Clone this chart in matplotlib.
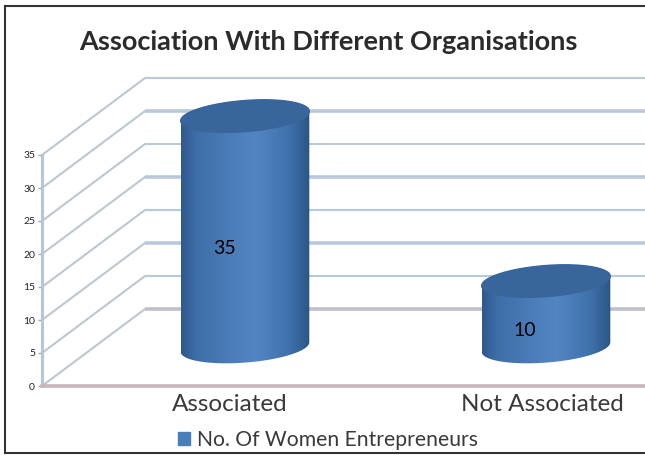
import numpy as np
import matplotlib
matplotlib.use("Agg")
import matplotlib.pyplot as plt
from matplotlib.lines import Line2D
from matplotlib.patches import Patch, Polygon

categories = ["Associated", "Not Associated"]
values = [35, 10]
value_labels = ["35", "10"]
y_ticks = [0, 5, 10, 15, 20, 25, 30, 35]
series_name = "No. Of Women Entrepreneurs"
title = "Association With Different Organisations"

W, H = 645, 455
LEFT = 42
PX_PER_UNIT = 231 / 35
DEPTH_X, DEPTH_Y = 103, 77 / PX_PER_UNIT
BAR_X = [245 - LEFT, 546 - LEFT]
LABEL_X = [230 - LEFT, 542 - LEFT]
BASE = 5.9
A, B, TILT = 64.5, 15.5, np.radians(4.5)

plt.rcParams["font.family"] = ["Lato", "DejaVu Sans"]
fig = plt.figure(figsize=(W / 100, H / 100), dpi=100, facecolor="white")
ax = fig.add_axes([LEFT / W, (H - 386) / H, (W - LEFT) / W, 231 / H])
for s in ax.spines.values():
    s.set_visible(False)
ax.patch.set_visible(False)


def ellipse(cx, cy, t):
    # tilted ellipse, pixel offsets turned into value units on y
    px = A * np.cos(t)
    py = B * np.sin(t)
    x = cx + px * np.cos(TILT) - py * np.sin(TILT)
    y = cy + (px * np.sin(TILT) + py * np.cos(TILT)) / PX_PER_UNIT
    return x, y


# walls and gridlines
for i, v in enumerate(y_ticks):
    top = v + DEPTH_Y
    c = "#b9c9d9" if v else "#c0bfcb"
    ax.plot([0, DEPTH_X], [v, top], color="#bcc7cf", lw=1.5, clip_on=False, zorder=1)
    ax.plot([DEPTH_X, W - LEFT], [top, top], color=c, lw=2.6 if i % 2 == 0 else 1.5,
            clip_on=False, zorder=1, solid_capstyle="butt")
ax.plot([0, 0], [0, 35], color="#b7c6d6", lw=2.2, clip_on=False, zorder=2)
ax.plot([0, W - LEFT], [0, 0], color="#c9b4bc", lw=2.6, clip_on=False, zorder=2)

# cylinders
cmap = matplotlib.colors.LinearSegmentedColormap.from_list(
    "cyl", [(0, "#2f5a8e"), (0.12, "#3f6ea8"), (0.35, "#4a7bb6"), (0.58, "#5286c3"),
            (0.85, "#3f70aa"), (1, "#2a5685")])
grad = np.linspace(0, 1, 128).reshape(1, -1)
for cx, v, lab in zip(BAR_X, values, value_labels):
    t = np.linspace(0, 2 * np.pi, 200)
    lower = np.linspace(np.pi, 2 * np.pi, 100)
    upper = np.linspace(0, np.pi, 100)
    xb, yb = ellipse(cx, BASE, lower)
    xt, yt = ellipse(cx, BASE + v, upper)
    outline = np.column_stack([np.r_[xb, xt], np.r_[yb, yt]])
    clip = Polygon(outline, closed=True, transform=ax.transData, fc="none", ec="none")
    ax.add_patch(clip)
    im = ax.imshow(grad, cmap=cmap, aspect="auto", zorder=3,
                   extent=[cx - A, cx + A, 0, 35 + DEPTH_Y])
    # images get cut at the axes box otherwise, the cylinder top sits above it
    im.set_clip_box(fig.bbox)
    im.set_clip_path(clip)
    xe, ye = ellipse(cx, BASE + v, t)
    ax.fill(xe, ye, color="#37659c", zorder=4, clip_on=False)
    ax.text(cx - 21, BASE + v / 2 - 2.5, lab, fontsize=14, color="black",
            ha="center", va="center", zorder=5)
ax.set_xlim(0, W - LEFT)
ax.set_ylim(0, 35)

ax.set_xticks(LABEL_X, categories, fontsize=17.5, color="#3a3a3a")
ax.set_yticks(y_ticks, [str(v) for v in y_ticks], fontsize=7.5, color="#222222")
ax.tick_params(axis="x", length=0, pad=6)
ax.tick_params(axis="y", length=3, width=1, color="#a8a8a8", pad=2)

fig.text(328 / W, 1 - 42 / H, title, fontsize=19.5, fontweight="bold", color="#2b2b2b",
         ha="center", va="center")
fig.legend(handles=[Patch(color="#4a7ebb", label=series_name)], loc="center",
           bbox_to_anchor=(328 / W, 1 - 440 / H), frameon=False, fontsize=15.2,
           labelcolor="#3a3a3a", handlelength=0.57, handleheight=0.62, handletextpad=0.33)

# outer frame
for xs, ys in [([5, 5], [6, 453]), ([5, W], [453, 453]), ([5, W], [6, 6])]:
    fig.add_artist(Line2D([x / W for x in xs], [1 - y / H for y in ys], color="#333333", lw=1.5))

fig.savefig("out.png", dpi=100)
